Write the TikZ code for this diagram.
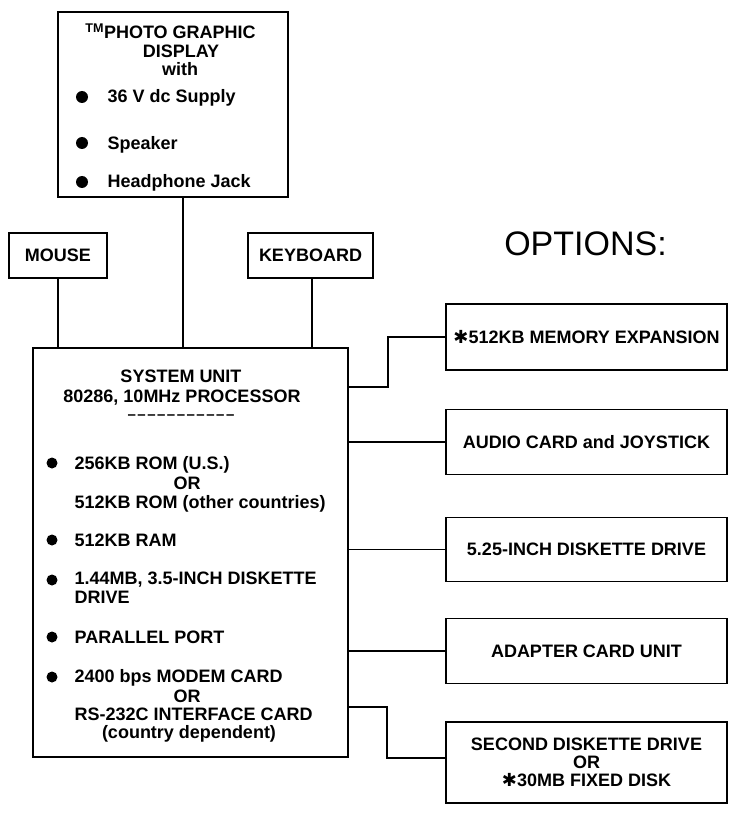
\documentclass[tikz,border=0pt]{standalone}
\usepackage{fontspec}
\setmainfont{Liberation Sans}
\newfontfamily\symfont{DejaVu Sans}
\newcommand{\heavyast}{{\symfont ✱}}

\begin{document}
\begin{tikzpicture}[
            x = 1pt, y = -1pt, % pixel grid, y grows downwards
            line width = 1.4pt, % connector width
            font = \fontsize{18}{18}\selectfont\bfseries
        ]

        \tikzstyle{box}=[
            draw = black,
            line width = 1.8pt,
            rectangle,
            inner sep = 0pt,
            align = center
        ]
        \tikzstyle{optbox}=[box, minimum width = 281pt]
        \tikzstyle{itemtxt}=[anchor = base west, inner sep = 0pt]
        \tikzstyle{midtxt}=[anchor = base, inner sep = 0pt]

        \useasboundingbox (0,0) rectangle (729,813);

        % main boxes
        \node[box, minimum width = 230pt, minimum height = 185pt] (display)  at ( 173 , 104.5 ) {};
        \node[box, minimum width = 98pt,  minimum height = 45pt]  (mouse)    at (  58 , 255.5 ) {MOUSE};
        \node[box, minimum width = 125pt, minimum height = 45pt]  (keyboard) at ( 310.5 , 255.5 ) {KEYBOARD};
        \node[box, minimum width = 315pt, minimum height = 409pt] (sysunit)  at ( 190.5 , 552.5 ) {};

        % options
        \node[midtxt, font = \fontsize{34}{34}\selectfont\mdseries] (options) at ( 585.5 , 255 ) {OPTIONS:};
        \node[optbox, minimum height = 66pt] (memexp)  at ( 586.5 , 337 )   {\heavyast512KB MEMORY EXPANSION};
        \node[optbox, minimum height = 65pt] (audio)   at ( 586.5 , 442 )   {AUDIO CARD and JOYSTICK};
        \node[optbox, minimum height = 64pt] (disk525) at ( 586.5 , 549.5 ) {5.25-INCH DISKETTE DRIVE};
        \node[optbox, minimum height = 65pt] (adapter) at ( 586.5 , 651 )   {ADAPTER CARD UNIT};
        \node[optbox, minimum height = 81pt] (second)  at ( 586.5 , 762.5 ) {SECOND DISKETTE DRIVE\\OR\\\heavyast30MB FIXED DISK};

        % display text
        \node[midtxt] (dtitle) at ( 170.5 , 39 ) {\textsuperscript{TM}PHOTO GRAPHIC};
        \node[midtxt] (dname)  at ( 181 , 58 ) {DISPLAY};
        \node[midtxt] (dwith)  at ( 180 , 76 ) {with};
        \foreach \y in {97, 143, 182}
            \fill (82,\y) circle (6pt);
        \node[itemtxt] (dsupply) at ( 107 , 103 ) {36 V dc Supply};
        \node[itemtxt] (dspeak)  at ( 107 , 150 ) {Speaker};
        \node[itemtxt] (djack)   at ( 107 , 188 ) {Headphone Jack};

        % system unit text
        \node[midtxt] (stitle) at ( 181 , 382 ) {SYSTEM UNIT};
        \node[midtxt] (sproc)  at ( 182 , 402 ) {80286, 10MHz PROCESSOR};
        \node[midtxt, font = \fontsize{15}{15}\selectfont\bfseries] (sdash) at ( 181 , 419.5 )
            {\foreach \i in {1,...,10}{\textendash\kern1.5pt}\textendash};
        \foreach \y in {463, 540, 580, 637, 677}
            \fill (52,\y) circle (5.5pt);
        \node[itemtxt] (srom)   at (  74 , 469 ) {256KB ROM (U.S.)};
        \node[midtxt]  (sor1)   at ( 187 , 489 ) {OR};
        \node[itemtxt] (srom2)  at (  74 , 508 ) {512KB ROM (other countries)};
        \node[itemtxt] (sram)   at (  74 , 546 ) {512KB RAM};
        \node[itemtxt] (sdisk)  at (  74 , 584 ) {1.44MB, 3.5-INCH DISKETTE};
        \node[itemtxt] (sdisk2) at (  74 , 603 ) {DRIVE};
        \node[itemtxt] (sport)  at (  74 , 643 ) {PARALLEL PORT};
        \node[itemtxt] (smodem) at (  74 , 682 ) {2400 bps MODEM CARD};
        \node[midtxt]  (sor2)   at ( 187 , 702 ) {OR};
        \node[itemtxt] (srs)    at (  74 , 720 ) {RS-232C INTERFACE CARD};
        \node[midtxt]  (scntry) at ( 189 , 738 ) {(country dependent)};

        % connectors
        \draw ([xshift=10pt]display.south) -- ([xshift=10pt]display.south |- sysunit.north);
        \draw (mouse.south) -- (mouse.south |- sysunit.north);
        \draw ([xshift=1.5pt]keyboard.south) -- ([xshift=1.5pt]keyboard.south |- sysunit.north);

        \coordinate (memjog) at ( 388 , 387 );
        \coordinate (secjog) at ( 387 , 707 );
        \draw (sysunit.east |- memjog) -- (memjog) |- (memexp.west);
        \draw (audio.west) -- (audio.west -| sysunit.east);
        \draw (disk525.west) -- (disk525.west -| sysunit.east);
        \draw (adapter.west) -- (adapter.west -| sysunit.east);
        \draw (sysunit.east |- secjog) -- (secjog) |- ([yshift=4.5pt]second.west);

    \end{tikzpicture}
\end{document}
